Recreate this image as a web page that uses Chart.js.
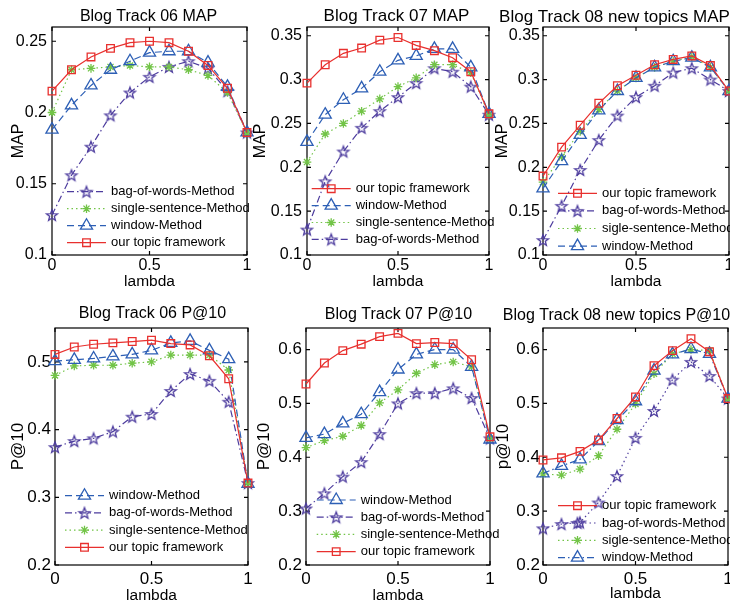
<!DOCTYPE html>
<html>
<head>
<meta charset="utf-8">
<script src="https://cdn.jsdelivr.net/npm/chart.js@4.4.1/dist/chart.umd.min.js"></script>
<style>
  html, body { margin: 0; padding: 0; background: #fff; overflow: hidden; }
  body { width: 730px; height: 606px; position: relative; }
  canvas { position: absolute; }
</style>
</head>
<body>
<canvas id="c1"></canvas>
<canvas id="c2"></canvas>
<canvas id="c3"></canvas>
<canvas id="c4"></canvas>
<canvas id="c5"></canvas>
<canvas id="c6"></canvas>
<script>
// lambda values shared by every panel
const lambda = [0, 0.1, 0.2, 0.3, 0.4, 0.5, 0.6, 0.7, 0.8, 0.9, 1];

// Blog Track 06 MAP
const map06Ours   = [0.215, 0.230, 0.239, 0.245, 0.249, 0.250, 0.249, 0.243, 0.233, 0.217, 0.186];
const map06Window = [0.188, 0.205, 0.219, 0.230, 0.236, 0.242, 0.243, 0.243, 0.235, 0.218, 0.186];
const map06Single = [0.200, 0.230, 0.231, 0.232, 0.233, 0.232, 0.232, 0.230, 0.226, 0.214, 0.186];
const map06Bag    = [0.128, 0.156, 0.176, 0.198, 0.214, 0.225, 0.232, 0.236, 0.231, 0.215, 0.186];

// Blog Track 07 MAP
const map07Ours   = [0.296, 0.317, 0.330, 0.336, 0.345, 0.348, 0.339, 0.333, 0.325, 0.309, 0.261];
const map07Window = [0.229, 0.260, 0.277, 0.290, 0.309, 0.322, 0.327, 0.335, 0.335, 0.314, 0.261];
const map07Single = [0.206, 0.238, 0.250, 0.264, 0.278, 0.292, 0.302, 0.317, 0.317, 0.308, 0.260];
const map07Bag    = [0.129, 0.184, 0.218, 0.245, 0.264, 0.280, 0.296, 0.313, 0.309, 0.292, 0.260];

// Blog Track 08 new topics MAP
const map08Ours   = [0.190, 0.223, 0.248, 0.273, 0.293, 0.305, 0.317, 0.323, 0.327, 0.316, 0.287];
const map08Window = [0.176, 0.207, 0.237, 0.265, 0.287, 0.302, 0.314, 0.321, 0.325, 0.314, 0.287];
const map08Single = [0.183, 0.212, 0.241, 0.266, 0.287, 0.302, 0.314, 0.321, 0.326, 0.314, 0.287];
const map08Bag    = [0.117, 0.156, 0.197, 0.231, 0.259, 0.280, 0.293, 0.308, 0.313, 0.300, 0.287];

// Blog Track 06 P@10
const p06Ours   = [0.511, 0.522, 0.526, 0.528, 0.530, 0.532, 0.527, 0.525, 0.509, 0.475, 0.321];
const p06Window = [0.501, 0.503, 0.505, 0.508, 0.511, 0.517, 0.528, 0.531, 0.517, 0.504, 0.320];
const p06Single = [0.480, 0.494, 0.495, 0.495, 0.498, 0.500, 0.510, 0.510, 0.510, 0.488, 0.321];
const p06Bag    = [0.374, 0.383, 0.387, 0.397, 0.419, 0.423, 0.457, 0.482, 0.472, 0.441, 0.321];

// Blog Track 07 P@10
const p07Ours   = [0.536, 0.575, 0.598, 0.610, 0.624, 0.630, 0.611, 0.613, 0.611, 0.581, 0.438];
const p07Window = [0.436, 0.443, 0.463, 0.480, 0.521, 0.563, 0.591, 0.600, 0.600, 0.568, 0.433];
const p07Single = [0.418, 0.431, 0.439, 0.459, 0.501, 0.525, 0.556, 0.572, 0.577, 0.568, 0.435];
const p07Bag    = [0.305, 0.333, 0.364, 0.391, 0.443, 0.500, 0.519, 0.519, 0.528, 0.510, 0.435];

// Blog Track 08 new topics P@10
const p08Ours   = [0.395, 0.399, 0.411, 0.432, 0.472, 0.512, 0.570, 0.598, 0.620, 0.596, 0.509];
const p08Window = [0.370, 0.384, 0.396, 0.430, 0.469, 0.504, 0.561, 0.591, 0.601, 0.592, 0.509];
const p08Single = [0.369, 0.367, 0.378, 0.403, 0.452, 0.499, 0.555, 0.592, 0.600, 0.598, 0.509];
const p08Bag    = [0.268, 0.276, 0.279, 0.316, 0.365, 0.436, 0.486, 0.544, 0.577, 0.551, 0.509];

// tick labels
const xTicks = [0, 0.5, 1];
const map06Ticks = [0.1, 0.15, 0.2, 0.25];
const map0708Ticks = [0.1, 0.15, 0.2, 0.25, 0.3, 0.35];
const p06Ticks = [0.2, 0.3, 0.4, 0.5];
const p0708Ticks = [0.2, 0.3, 0.4, 0.5, 0.6];

const titles = [
  "Blog Track 06 MAP", "Blog Track 07 MAP", "Blog Track 08 new topics MAP",
  "Blog Track 06 P@10", "Blog Track 07 P@10", "Blog Track 08 new topics P@10"
];

const FONT = '"Liberation Sans", Arial, Helvetica, sans-serif';
Chart.defaults.font.family = FONT;
Chart.defaults.color = '#000';

// hollow pentagram marker, like matlab 'p'
function pentagram(color, r) {
  const c = document.createElement('canvas');
  const s = Math.ceil(r * 2 + 4);
  c.width = c.height = s;
  const g = c.getContext('2d');
  g.strokeStyle = color;
  g.lineWidth = 1.3;
  g.beginPath();
  for (let i = 0; i < 10; i++) {
    const rr = i % 2 ? r * 0.42 : r;
    const a = -Math.PI / 2 + i * Math.PI / 5;
    const px = s / 2 + rr * Math.cos(a), py = s / 2 + 0.5 + rr * Math.sin(a);
    if (i === 0) g.moveTo(px, py); else g.lineTo(px, py);
  }
  g.closePath();
  g.stroke();
  return c;
}

const RED = '#e8302e', BLUE = '#2d5fb5', GREEN = '#72c447', PURPLE = '#4d3c9e';
const styles = {
  ours:   { color: RED,    marker: 'rect',     radius: 5.4 },
  win:    { color: BLUE,   marker: 'triangle', radius: 7 },
  single: { color: GREEN,  marker: 'star',     radius: 4.3 },
  bag:    { color: PURPLE, marker: pentagram(PURPLE, 5.8), radius: 5 }
};
const dashes = { solid: [], dashed: [7, 4], dotted: [1.5, 3], dashdot: [7, 3, 1.5, 3] };

function dataset(key, label, values, dash) {
  const st = styles[key];
  return {
    label: label,
    data: lambda.map((x, i) => ({ x: x, y: values[i] })),
    borderColor: st.color,
    borderWidth: 1.2,
    borderDash: dashes[dash],
    backgroundColor: 'rgba(0,0,0,0)',
    pointStyle: st.marker,
    pointRadius: st.radius,
    pointHoverRadius: st.radius,
    pointBorderWidth: 1.3,
    pointBorderColor: st.color,
    pointBackgroundColor: 'rgba(0,0,0,0)',
    tension: 0,
    fill: false,
    clip: false,
    key: key
  };
}

// matlab style box with inward ticks
const matlabBox = {
  id: 'matlabBox',
  beforeDatasetsDraw(chart) {
    const { ctx, chartArea: a, scales } = chart;
    ctx.save();
    ctx.strokeStyle = '#000';
    ctx.lineWidth = 1.2;
    ctx.strokeRect(a.left, a.top, a.right - a.left, a.bottom - a.top);
    ctx.beginPath();
    scales.x.ticks.forEach(t => {
      const px = scales.x.getPixelForValue(t.value);
      ctx.moveTo(px, a.bottom); ctx.lineTo(px, a.bottom - 4);
      ctx.moveTo(px, a.top); ctx.lineTo(px, a.top + 4);
    });
    scales.y.ticks.forEach(t => {
      const py = scales.y.getPixelForValue(t.value);
      ctx.moveTo(a.left, py); ctx.lineTo(a.left + 4, py);
      ctx.moveTo(a.right, py); ctx.lineTo(a.right - 4, py);
    });
    ctx.stroke();
    ctx.restore();
  }
};

const panelTitle = {
  id: 'panelTitle',
  afterDraw(chart, args, o) {
    const ctx = chart.ctx;
    ctx.save();
    ctx.font = o.size + 'px ' + FONT;
    ctx.fillStyle = '#000';
    ctx.textAlign = 'center';
    ctx.textBaseline = 'alphabetic';
    ctx.fillText(o.text, o.x, o.y);
    ctx.restore();
  }
};

// legend drawn inside the axes, line sample with marker in the middle
const innerLegend = {
  id: 'innerLegend',
  afterDraw(chart, args, o) {
    const { ctx, chartArea: a } = chart;
    const x0 = a.left + o.dx;
    let y = a.bottom + o.dy;
    ctx.save();
    ctx.font = '13px ' + FONT;
    ctx.textBaseline = 'middle';
    o.order.forEach(k => {
      const ds = chart.data.datasets.find(d => d.key === k);
      ctx.strokeStyle = ds.borderColor;
      ctx.lineWidth = ds.borderWidth;
      ctx.setLineDash(ds.borderDash);
      ctx.beginPath();
      ctx.moveTo(x0, y);
      ctx.lineTo(x0 + 39, y);
      ctx.stroke();
      ctx.setLineDash([]);
      ctx.lineWidth = ds.pointBorderWidth;
      ctx.fillStyle = 'rgba(0,0,0,0)';
      Chart.helpers.drawPoint(ctx, {
        pointStyle: ds.pointStyle, radius: ds.pointRadius,
        borderWidth: ds.pointBorderWidth, rotation: 0
      }, x0 + 19.5, y);
      ctx.fillStyle = '#000';
      ctx.fillText(ds.label, x0 + 44, y);
      y += o.gap;
    });
    ctx.restore();
  }
};

const panels = [
  { id: 'c1', box: [0, 0, 262, 300], area: { L: 52, T: 27, R: 247, B: 255 },
    title: titles[0], titleSize: 16, titleX: 148.5, titleY: 21,
    yMin: 0.1, yMax: 0.26, yTicks: map06Ticks, yLabel: 'MAP', yLabelX: 19, yLabelSize: 16,
    tickSize: 16, yTickPad: 5, xTickPad: 1.4, xLabelY: 281.6,
    sets: [['ours', 'our topic framework', map06Ours, 'solid'], ['win', 'window-Method', map06Window, 'dashed'],
           ['single', 'single-sentence-Method', map06Single, 'dotted'], ['bag', 'bag-of-words-Method', map06Bag, 'dashdot']],
    legend: { order: ['bag', 'single', 'win', 'ours'], dx: 15, dy: -63.3, gap: 17 } },
  { id: 'c2', box: [250, 0, 252, 300], area: { L: 307, T: 27, R: 489, B: 255 },
    title: titles[1], titleSize: 17, titleX: 396.5, titleY: 21,
    yMin: 0.1, yMax: 0.36, yTicks: map0708Ticks, yLabel: 'MAP', yLabelX: 261, yLabelSize: 16,
    tickSize: 16, yTickPad: 5, xTickPad: 1.4, xLabelY: 281.6,
    sets: [['ours', 'our topic framework', map07Ours, 'solid'], ['win', 'window-Method', map07Window, 'dashed'],
           ['single', 'single-sentence-Method', map07Single, 'dotted'], ['bag', 'bag-of-words-Method', map07Bag, 'dashdot']],
    legend: { order: ['ours', 'win', 'single', 'bag'], dx: 4.7, dy: -66.3, gap: 16.9 } },
  { id: 'c3', box: [490, 0, 270, 300], area: { L: 543, T: 27, R: 729, B: 255 },
    title: titles[2], titleSize: 17, titleX: 614.5, titleY: 22,
    yMin: 0.1, yMax: 0.36, yTicks: map0708Ticks, yLabel: 'MAP', yLabelX: 502.5, yLabelSize: 16,
    tickSize: 16, yTickPad: 3, xTickPad: 1.4, xLabelY: 281.6,
    sets: [['ours', 'our topic framework', map08Ours, 'solid'], ['win', 'window-Method', map08Window, 'dashed'],
           ['single', 'sigle-sentence-Method', map08Single, 'dotted'], ['bag', 'bag-of-words-Method', map08Bag, 'dashdot']],
    legend: { order: ['ours', 'bag', 'single', 'win'], dx: 15, dy: -61.7, gap: 17.6 } },
  { id: 'c4', box: [0, 295, 262, 311], area: { L: 55, T: 328, R: 248, B: 565 },
    title: titles[3], titleSize: 16, titleX: 152.5, titleY: 318,
    yMin: 0.2, yMax: 0.55, yTicks: p06Ticks, yLabel: 'P@10', yLabelX: 18.5, yLabelSize: 17,
    tickSize: 17, yTickPad: 4, xTickPad: 3.8, xLabelY: 595.6,
    sets: [['ours', 'our topic framework', p06Ours, 'solid'], ['win', 'window-Method', p06Window, 'dashed'],
           ['single', 'single-sentence-Method', p06Single, 'dotted'], ['bag', 'bag-of-words-Method', p06Bag, 'dashdot']],
    legend: { order: ['win', 'bag', 'single', 'ours'], dx: 10, dy: -69.3, gap: 17.2 } },
  { id: 'c5', box: [250, 295, 252, 311], area: { L: 306, T: 328, R: 490, B: 565 },
    title: titles[4], titleSize: 16, titleX: 398.5, titleY: 319,
    yMin: 0.2, yMax: 0.64, yTicks: p0708Ticks, yLabel: 'P@10', yLabelX: 264.5, yLabelSize: 17,
    tickSize: 17, yTickPad: 4, xTickPad: 3.8, xLabelY: 595.6,
    sets: [['ours', 'our topic framework', p07Ours, 'solid'], ['win', 'window-Method', p07Window, 'dashed'],
           ['single', 'single-sentence-Method', p07Single, 'dotted'], ['bag', 'bag-of-words-Method', p07Bag, 'dashdot']],
    legend: { order: ['win', 'bag', 'single', 'ours'], dx: 10.7, dy: -65, gap: 17.2 } },
  { id: 'c6', box: [490, 295, 270, 311], area: { L: 543, T: 328, R: 728, B: 565 },
    title: titles[5], titleSize: 16, titleX: 616.5, titleY: 320,
    yMin: 0.2, yMax: 0.64, yTicks: p0708Ticks, yLabel: 'p@10', yLabelX: 503.5, yLabelSize: 17,
    tickSize: 17, yTickPad: 3, xTickPad: 3.8, xLabelY: 593.6,
    sets: [['ours', 'our topic framework', p08Ours, 'solid'], ['win', 'window-Method', p08Window, 'dashdot'],
           ['single', 'sigle-sentence-Method', p08Single, 'dotted'], ['bag', 'bag-of-words-Method', p08Bag, 'dotted']],
    legend: { order: ['ours', 'bag', 'single', 'win'], dx: 15, dy: -59.3, gap: 17.3 } }
];

panels.forEach(p => {
  const [cx, cy, cw, ch] = p.box;
  const canvas = document.getElementById(p.id);
  canvas.width = cw;
  canvas.height = ch;
  canvas.style.left = cx + 'px';
  canvas.style.top = cy + 'px';
  const xLabelSize = 15.5;
  const xLh = xLabelSize * 1.2, yLh = p.yLabelSize * 1.2;

  new Chart(canvas, {
    type: 'line',
    data: { datasets: p.sets.map(s => dataset(s[0], s[1], s[2], s[3])) },
    options: {
      responsive: false,
      animation: false,
      events: [],
      layout: { padding: { left: 0, top: p.area.T - cy, right: cx + cw - p.area.R, bottom: 0 } },
      plugins: {
        legend: { display: false },
        tooltip: { enabled: false },
        panelTitle: { text: p.title, size: p.titleSize, x: p.titleX - cx, y: p.titleY - cy },
        innerLegend: p.legend
      },
      scales: {
        x: {
          type: 'linear', min: 0, max: 1,
          grid: { display: false, drawTicks: false },
          border: { display: false },
          afterBuildTicks: s => { s.ticks = xTicks.map(v => ({ value: v })); },
          afterFit: s => { s.height = cy + ch - p.area.B; },
          ticks: { padding: p.xTickPad, font: { size: p.tickSize }, color: '#000',
                   maxRotation: 0, autoSkip: false, callback: v => String(v) },
          title: { display: true, text: 'lambda', color: '#000', font: { size: xLabelSize },
                   padding: { top: 0, bottom: cy + ch - p.xLabelY - xLh / 2 } }
        },
        y: {
          type: 'linear', min: p.yMin, max: p.yMax,
          grid: { display: false, drawTicks: false },
          border: { display: false },
          afterBuildTicks: s => { s.ticks = p.yTicks.map(v => ({ value: v })); },
          afterFit: s => { s.width = p.area.L - cx; },
          ticks: { padding: p.yTickPad, font: { size: p.tickSize }, color: '#000',
                   autoSkip: false, callback: v => String(v) },
          title: { display: true, text: p.yLabel, color: '#000', font: { size: p.yLabelSize },
                   padding: { top: p.yLabelX - cx - yLh / 2, bottom: 0 } }
        }
      }
    },
    plugins: [matlabBox, panelTitle, innerLegend]
  });
});
</script>
</body>
</html>
